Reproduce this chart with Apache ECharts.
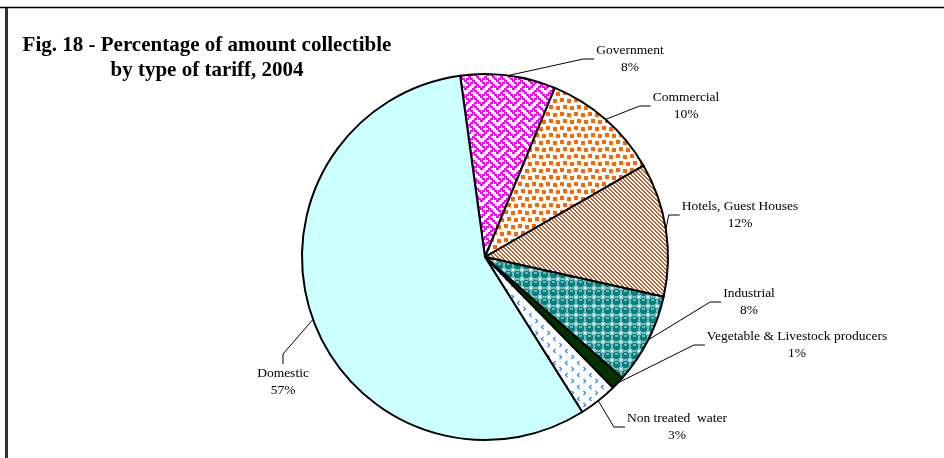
<!DOCTYPE html>
<html>
<head>
<meta charset="utf-8">
<script src="https://cdn.jsdelivr.net/npm/echarts@6/dist/echarts.min.js"></script>
<style>
html,body{margin:0;padding:0;background:#fff;}
#chart{width:944px;height:458px;}
</style>
</head>
<body>
<div id="chart"></div>
<script>
// ---- data ----
const categories = ['Government', 'Commercial', 'Hotels, Guest Houses', 'Industrial', 'Vegetable & Livestock producers', 'Non treated  water', 'Domestic'];
const shares = [8.4, 10.45, 11.8, 8.0, 1.2, 3.4, 56.75];
const titleText = 'Fig. 18 - Percentage of amount collectible\nby type of tariff, 2004';

// ---- layout (label centres and attachment side) ----
const labelCenters = [[630, 59], [686, 106], [740, 215], [749, 302], [797, 345], [677, 427], [283, 382]];
const labelSides = ['left', 'left', 'left', 'left', 'left', 'left', 'top'];

function tile(w, h, bg, fn) {
  const c = document.createElement('canvas');
  c.width = w; c.height = h;
  const ctx = c.getContext('2d');
  ctx.fillStyle = bg;
  ctx.fillRect(0, 0, w, h);
  fn(ctx);
  return { image: c, repeat: 'repeat' };
}
// weave: magenta woven bits on white
const patWeave = tile(16, 16, '#fff', function (ctx) {
  const bits = [0x88, 0x54, 0x22, 0x45, 0x88, 0x14, 0x22, 0x51];
  ctx.fillStyle = '#FF00FF';
  for (let y = 0; y < 8; y++) for (let x = 0; x < 8; x++) {
    if (bits[y] & (0x80 >> x)) {
      ctx.fillRect(x * 2, y * 2, 3, 2);
      if (x === 7) ctx.fillRect(0, y * 2, 1, 2);
    }
  }
});
const patConfetti = tile(14, 14, '#fff', function (ctx) {
  ctx.fillStyle = '#FF6600';
  [[0, 0], [7, 1], [3, 7], [10, 8]].forEach(p => ctx.fillRect(p[0], p[1], 4, 4));
});
const patStripe = tile(4, 4, '#fff', function (ctx) {
  ctx.fillStyle = '#BD6535';
  for (let y = 0; y < 4; y++) for (let x = 0; x < 4; x++) {
    const d = ((x - y) % 4 + 4) % 4;
    if (d === 0 || d === 1) ctx.fillRect(x, y, 1, 1);
  }
});
const patSphere = tile(9, 9, '#008080', function (ctx) {
  ctx.fillStyle = '#fff';
  ctx.fillRect(0, 0, 1.5, 1.5); ctx.fillRect(7.5, 0, 1.5, 1.5);
  ctx.fillRect(0, 7.5, 1.5, 1.5); ctx.fillRect(7.5, 7.5, 1.5, 1.5);
  ctx.strokeStyle = 'rgba(255,255,255,0.7)';
  ctx.lineWidth = 0.8;
  ctx.beginPath(); ctx.arc(4.5, 4.5, 4.1, 0, Math.PI * 2); ctx.stroke();
  ctx.fillStyle = 'rgba(255,255,255,0.9)';
  ctx.fillRect(3, 2.5, 3, 1);
});
const patDivot = tile(12, 12, '#fff', function (ctx) {
  ctx.strokeStyle = '#3D8EF0';
  ctx.lineWidth = 1.4;
  ctx.beginPath(); ctx.moveTo(3.5, 1); ctx.lineTo(1.5, 3); ctx.lineTo(3.5, 5); ctx.stroke();
  ctx.beginPath(); ctx.moveTo(7.5, 7); ctx.lineTo(9.5, 9); ctx.lineTo(7.5, 11); ctx.stroke();
});
const fills = [patWeave, patConfetti, patStripe, patSphere, '#003300', patDivot, '#CCFFFF'];

const chart = echarts.init(document.getElementById('chart'), null, { renderer: 'canvas' });
const font = 'Liberation Serif';

chart.setOption({
  animation: false,
  backgroundColor: '#fff',
  title: {
    text: titleText,
    left: 202, top: 28, textAlign: 'center',
    textStyle: { fontFamily: font, fontWeight: 'bold', fontSize: 21, lineHeight: 25, color: '#000' }
  },
  graphic: [
    { type: 'line', shape: { x1: 0, y1: 7.5, x2: 944, y2: 7.5 }, style: { stroke: '#000', lineWidth: 1.5 } },
    { type: 'rect', shape: { x: 5, y: 8, width: 3, height: 450 }, style: { fill: '#333' } }
  ],
  series: [{
    type: 'pie',
    center: [485, 257],
    radius: 183,
    startAngle: 97.8,
    clockwise: true,
    avoidLabelOverlap: false,
    emphasis: { disabled: true },
    itemStyle: { borderColor: '#000', borderWidth: 2 },
    label: {
      show: true,
      position: 'outside',
      fontFamily: font, fontSize: 13.5, lineHeight: 17, color: '#000',
      formatter: p => p.name + '\n' + Math.round(p.value) + '%'
    },
    labelLine: { show: true, length: 20, length2: 10, lineStyle: { color: '#000', width: 1 } },
    labelLayout: function (params) {
      const i = params.dataIndex;
      const c = labelCenters[i];
      const w = params.labelRect.width, h = params.labelRect.height;
      const pts = params.labelLinePoints;
      const start = pts ? pts[0] : [c[0], c[1]];
      let elbow, end;
      if (labelSides[i] === 'top') {
        end = [c[0], c[1] - h / 2 - 1];
        elbow = [c[0], end[1] - 10];
      } else {
        end = [c[0] - w / 2 - 2, c[1]];
        elbow = [end[0] - 11, c[1]];
      }
      return { x: c[0], y: c[1], align: 'center', verticalAlign: 'middle', labelLinePoints: [start, elbow, end] };
    },
    data: categories.map((n, i) => ({ name: n, value: shares[i], itemStyle: { color: fills[i] } }))
  }]
});
</script>
</body>
</html>
